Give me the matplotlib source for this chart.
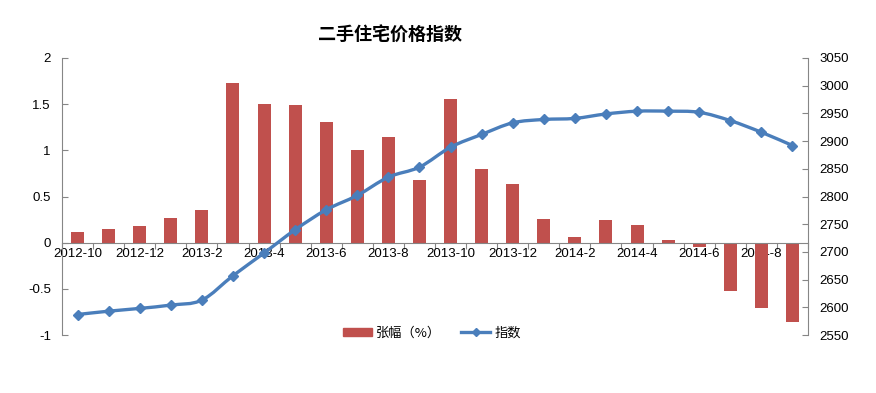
import matplotlib
matplotlib.use('Agg')
import matplotlib.pyplot as plt
from matplotlib.path import Path
from matplotlib.patches import PathPatch
from matplotlib.lines import Line2D
from matplotlib.ticker import FuncFormatter
import numpy as np

plt.rcParams['font.family'] = ['Liberation Sans', 'Noto Sans CJK SC', 'DejaVu Sans']

# data
months = ['2012-10', '2012-11', '2012-12', '2013-1', '2013-2', '2013-3', '2013-4', '2013-5',
          '2013-6', '2013-7', '2013-8', '2013-9', '2013-10', '2013-11', '2013-12', '2014-1',
          '2014-2', '2014-3', '2014-4', '2014-5', '2014-6', '2014-7', '2014-8', '2014-9']
change_pct = [0.12, 0.15, 0.18, 0.27, 0.35, 1.73, 1.50, 1.49, 1.31, 1.00, 1.14, 0.68,
              1.56, 0.80, 0.63, 0.26, 0.06, 0.25, 0.19, 0.03, -0.05, -0.52, -0.71, -0.86]
index_val = [2587, 2593, 2598, 2604, 2613, 2657, 2698, 2740, 2776, 2802, 2835, 2853,
             2889, 2912, 2933, 2939, 2941, 2949, 2954, 2954, 2952, 2937, 2916, 2892]

bar_color = '#C0504D'
line_color = '#4A7EBB'
axis_color = '#868686'

fig = plt.figure(figsize=(8.76, 3.93), dpi=100)
ax = fig.add_axes([62/876, 1-335/393, (808-62)/876, (335-58)/393])
ax2 = ax.twinx()

x = np.arange(len(months))
ax.bar(x, change_pct, width=0.42, color=bar_color, zorder=2)
ax.set_xlim(-0.5, len(months) - 0.5)
ax.set_ylim(-1, 2)
ax.set_yticks(np.arange(-1, 2.01, 0.5))
ax.yaxis.set_major_formatter(FuncFormatter(lambda v, p: '%g' % v))

# smooth line through the points (Catmull-Rom as cubic Bezier)
pts = np.column_stack([x, index_val]).astype(float)
verts = [pts[0]]
codes = [Path.MOVETO]
n = len(pts)
for i in range(n - 1):
    p0 = pts[max(i - 1, 0)]
    p1 = pts[i]
    p2 = pts[i + 1]
    p3 = pts[min(i + 2, n - 1)]
    c1 = p1 + (p2 - p0) / 6
    c2 = p2 - (p3 - p1) / 6
    verts += [c1, c2, p2]
    codes += [Path.CURVE4] * 3
ax2.add_patch(PathPatch(Path(verts, codes), facecolor='none', edgecolor=line_color,
                        lw=2.4, zorder=3, capstyle='round', joinstyle='round'))
ax2.plot(x, index_val, linestyle='none', marker='D', markersize=5.5, color=line_color, zorder=4)
ax2.set_ylim(2550, 3050)
ax2.set_yticks(np.arange(2550, 3051, 50))

# spines
for a in (ax, ax2):
    a.spines['top'].set_visible(False)
    a.spines['left'].set_color(axis_color)
    a.spines['right'].set_color(axis_color)
ax.spines['right'].set_visible(False)
ax2.spines['left'].set_visible(False)
ax2.spines['bottom'].set_visible(False)

ax.tick_params(axis='y', direction='in', length=4, color=axis_color, labelsize=9.5, pad=8)
ax2.tick_params(axis='y', direction='in', length=4, color=axis_color, labelsize=9.5, pad=8)

# category axis at zero: ticks at boundaries, labels every other month
ax.spines['bottom'].set_position(('data', 0))
ax.spines['bottom'].set_color(axis_color)
ax.spines['bottom'].set_zorder(3)
ax.set_xticks(np.arange(-0.5, len(months), 1))
ax.set_xticklabels([])
ax.tick_params(axis='x', which='major', direction='out', length=4, color=axis_color)
ax.set_xticks(x[::2], minor=True)
ax.set_xticklabels(months[::2], minor=True)
ax.tick_params(axis='x', which='minor', length=0, labelsize=9.5, pad=4)

fig.text(0.445, 1 - 35/393, '二手住宅价格指数', ha='center', va='center', fontsize=13,
         fontweight='bold', family=['Noto Sans CJK SC', 'DejaVu Sans'])

handles = [plt.Rectangle((0, 0), 1, 1, color=bar_color),
           Line2D([], [], color=line_color, lw=2.4, marker='D', markersize=4)]
fig.legend(handles, ['张幅（%）', '指数'], loc='center', bbox_to_anchor=(432/876, 1 - 333/393),
           ncol=2, frameon=False, handlelength=2.2, handleheight=0.6, handletextpad=0.3,
           columnspacing=1.5, prop={'family': ['Noto Sans CJK SC', 'DejaVu Sans'], 'size': 9.5})

fig.savefig('out.png', dpi=100)
